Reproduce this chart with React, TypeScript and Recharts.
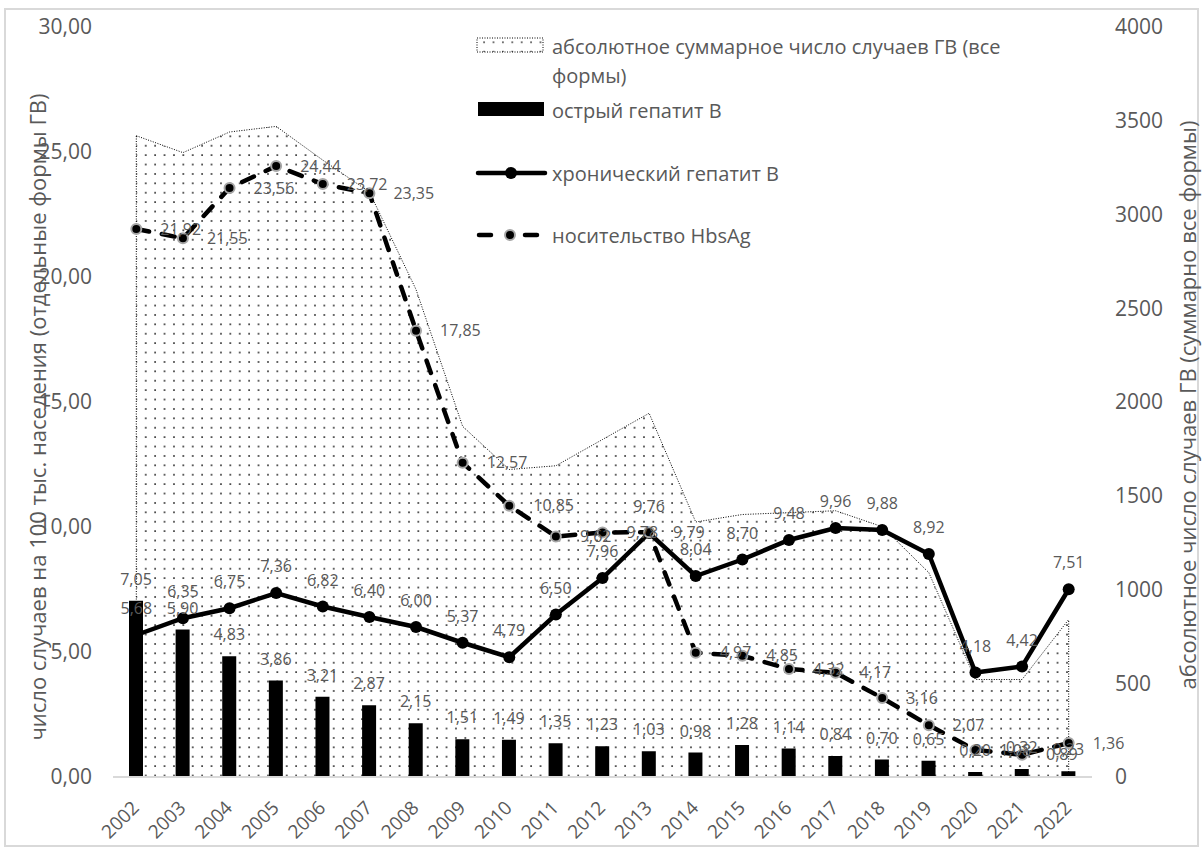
import {
  Area,
  Bar,
  ComposedChart,
  LabelList,
  Legend,
  Line,
  ReferenceLine,
  XAxis,
  YAxis,
} from "recharts";

const years = [
  "2002", "2003", "2004", "2005", "2006", "2007", "2008", "2009", "2010", "2011", "2012",
  "2013", "2014", "2015", "2016", "2017", "2018", "2019", "2020", "2021", "2022",
];
// острый гепатит В, per 100k
const acute = [
  7.05, 5.9, 4.83, 3.86, 3.21, 2.87, 2.15, 1.51, 1.49, 1.35, 1.23,
  1.03, 0.98, 1.28, 1.14, 0.84, 0.7, 0.65, 0.2, 0.32, 0.23,
];
// хронический гепатит В, per 100k
const chronic = [
  5.68, 6.35, 6.75, 7.36, 6.82, 6.4, 6.0, 5.37, 4.79, 6.5, 7.96,
  9.76, 8.04, 8.7, 9.48, 9.96, 9.88, 8.92, 4.18, 4.42, 7.51,
];
// носительство HbsAg, per 100k
const carrier = [
  21.92, 21.55, 23.56, 24.44, 23.72, 23.35, 17.85, 12.57, 10.85, 9.62, 9.78,
  9.79, 4.97, 4.85, 4.32, 4.17, 3.16, 2.07, 1.08, 0.89, 1.36,
];
// absolute total of all forms (right axis)
const totals = [
  3420, 3330, 3440, 3470, 3290, 3120, 2600, 1870, 1640, 1660, 1800,
  1940, 1360, 1400, 1410, 1420, 1335, 1090, 520, 520, 840,
];

const leftTicks = [0, 5, 10, 15, 20, 25, 30];
const rightTicks = [0, 500, 1000, 1500, 2000, 2500, 3000, 3500, 4000];

const names = {
  total: ["абсолютное суммарное число случаев ГВ (все", "формы)"],
  acute: "острый гепатит В",
  chronic: "хронический гепатит В",
  carrier: "носительство HbsAg",
};
const leftTitle = "число случаев на 100 тыс. наседения (отдельные формы ГВ)";
const rightTitle = "абсолютное число случаев ГВ (суммарно все формы)";

const data = years.map((year, i) => ({
  year,
  acute: acute[i],
  chronic: chronic[i],
  carrier: carrier[i],
  total: totals[i],
}));

const gray = "#595959";
const font = "'Open Sans', sans-serif";
const comma = (v: any) => Number(v).toFixed(2).replace(".", ",");

function YearTick({ x, y, payload }: any) {
  const tx = x + 4;
  const ty = y + 32;
  return (
    <text
      x={tx}
      y={ty}
      transform={`rotate(-45, ${tx}, ${ty})`}
      textAnchor="end"
      fill={gray}
      fontSize={19}
      fontFamily={font}
    >
      {payload.value}
    </text>
  );
}

const title = (x: number, y: number, text: string) => () => (
  <text
    x={x}
    y={y}
    transform={`rotate(-90, ${x}, ${y})`}
    textAnchor="middle"
    dominantBaseline="central"
    fill={gray}
    fontSize={22}
    fontFamily={font}
  >
    {text}
  </text>
);

function LegendBox() {
  const txt = { fill: gray, fontSize: 20, fontFamily: font, dominantBaseline: "central" } as any;
  return (
    <svg width={1202} height={260} style={{ position: "absolute", left: 0, top: 0 }}>
      <defs>
        <pattern id="legendDots" width="9.4" height="9.4" patternUnits="userSpaceOnUse">
          <rect x="4" y="4" width="1.4" height="1.4" fill="#000" />
        </pattern>
      </defs>
      <rect x={477} y={38} width={66} height={14} fill="url(#legendDots)" stroke="#000" strokeWidth={1} strokeDasharray="1 1.5" />
      <text x={552} y={46} {...txt}>{names.total[0]}</text>
      <text x={552} y={75} {...txt}>{names.total[1]}</text>

      <rect x={478} y={102} width={66} height={14} fill="#000" />
      <text x={552} y={110} {...txt}>{names.acute}</text>

      <line x1={478} y1={173} x2={545} y2={173} stroke="#000" strokeWidth={4.5} strokeLinecap="round" />
      <circle cx={511} cy={173} r={6} fill="#000" />
      <text x={552} y={173} {...txt}>{names.chronic}</text>

      <line x1={479} y1={235} x2={491} y2={235} stroke="#000" strokeWidth={4.5} strokeLinecap="round" />
      <line x1={525} y1={235} x2={537} y2={235} stroke="#000" strokeWidth={4.5} strokeLinecap="round" />
      <circle cx={510} cy={235} r={5} fill="#000" stroke="#a6a6a6" strokeWidth={2} />
      <text x={552} y={235} {...txt}>{names.carrier}</text>
    </svg>
  );
}

export default function App() {
  return (
    <div style={{ position: "absolute", left: 0, top: 0, width: 1202, height: 848, background: "#fff" }}>
      <div
        style={{
          position: "absolute",
          left: 4,
          top: 8,
          width: 1191,
          height: 835,
          border: "2px solid #d9d9d9",
        }}
      />
      <ComposedChart
        width={1202}
        height={848}
        data={data}
        margin={{ top: 27, right: 0, bottom: 0, left: 0 }}
      >
        <defs>
          <pattern id="dots" width="9.4" height="9.4" patternUnits="userSpaceOnUse">
            <rect x="4" y="4" width="1.5" height="1.5" fill="#000" />
          </pattern>
        </defs>
        <XAxis
          dataKey="year"
          height={71}
          interval={0}
          axisLine={{ stroke: "#d9d9d9", strokeWidth: 2 }}
          tickLine={false}
          tickSize={0}
          tickMargin={0}
          tick={(p: any) => <YearTick {...p} />}
        />
        <YAxis
          yAxisId="left"
          orientation="left"
          width={113}
          domain={[0, 30]}
          ticks={leftTicks}
          axisLine={false}
          tickLine={false}
          tickSize={0}
          tickMargin={21}
          tickFormatter={comma}
          tick={{ fill: gray, fontSize: 21, fontFamily: font }}
          label={{ value: leftTitle, content: title(37, 417, leftTitle) }}
        />
        <YAxis
          yAxisId="right"
          orientation="right"
          width={110}
          domain={[0, 4000]}
          ticks={rightTicks}
          axisLine={false}
          tickLine={false}
          tickSize={0}
          tickMargin={23}
          tick={{ fill: gray, fontSize: 21, fontFamily: font, textAnchor: "start" }}
          label={{ value: rightTitle, content: title(1187, 405, rightTitle) }}
        />
        <Legend
          layout="vertical"
          align="center"
          verticalAlign="middle"
          wrapperStyle={{ left: 0, top: 0, width: 1202, height: 260, pointerEvents: "none" }}
          content={() => <LegendBox />}
        />
        <Area
          yAxisId="right"
          dataKey="total"
          type="linear"
          fill="url(#dots)"
          fillOpacity={1}
          stroke="#000"
          strokeWidth={1}
          strokeDasharray="1 1.5"
          isAnimationActive={false}
        />
        <ReferenceLine
          yAxisId="right"
          segment={[
            { x: years[0], y: 0 },
            { x: years[0], y: totals[0] },
          ]}
          stroke="#000"
          strokeWidth={1}
          strokeDasharray="1 1.5"
        />
        <ReferenceLine
          yAxisId="right"
          segment={[
            { x: years[years.length - 1], y: 0 },
            { x: years[years.length - 1], y: totals[totals.length - 1] },
          ]}
          stroke="#000"
          strokeWidth={1}
          strokeDasharray="1 1.5"
        />
        <Bar yAxisId="left" dataKey="acute" fill="#000" barSize={14} isAnimationActive={false}>
          <LabelList
            dataKey="acute"
            position="top"
            offset={16}
            formatter={comma}
            fill={gray}
            fontSize={16}
            fontFamily={font}
          />
        </Bar>
        <Line
          yAxisId="left"
          dataKey="chronic"
          type="linear"
          stroke="#000"
          strokeWidth={4.5}
          dot={{ r: 6, fill: "#000", stroke: "#000", strokeWidth: 0 }}
          isAnimationActive={false}
        >
          <LabelList
            dataKey="chronic"
            position="top"
            offset={21}
            formatter={comma}
            fill={gray}
            fontSize={16}
            fontFamily={font}
          />
        </Line>
        <Line
          yAxisId="left"
          dataKey="carrier"
          type="linear"
          stroke="#000"
          strokeWidth={4.5}
          strokeDasharray="13 13"
          strokeLinecap="round"
          dot={{ r: 5, fill: "#000", stroke: "#a6a6a6", strokeWidth: 2, strokeDasharray: "none" }}
          isAnimationActive={false}
        >
          <LabelList
            dataKey="carrier"
            position="right"
            offset={24}
            formatter={comma}
            fill={gray}
            fontSize={16}
            fontFamily={font}
          />
        </Line>
      </ComposedChart>
    </div>
  );
}
